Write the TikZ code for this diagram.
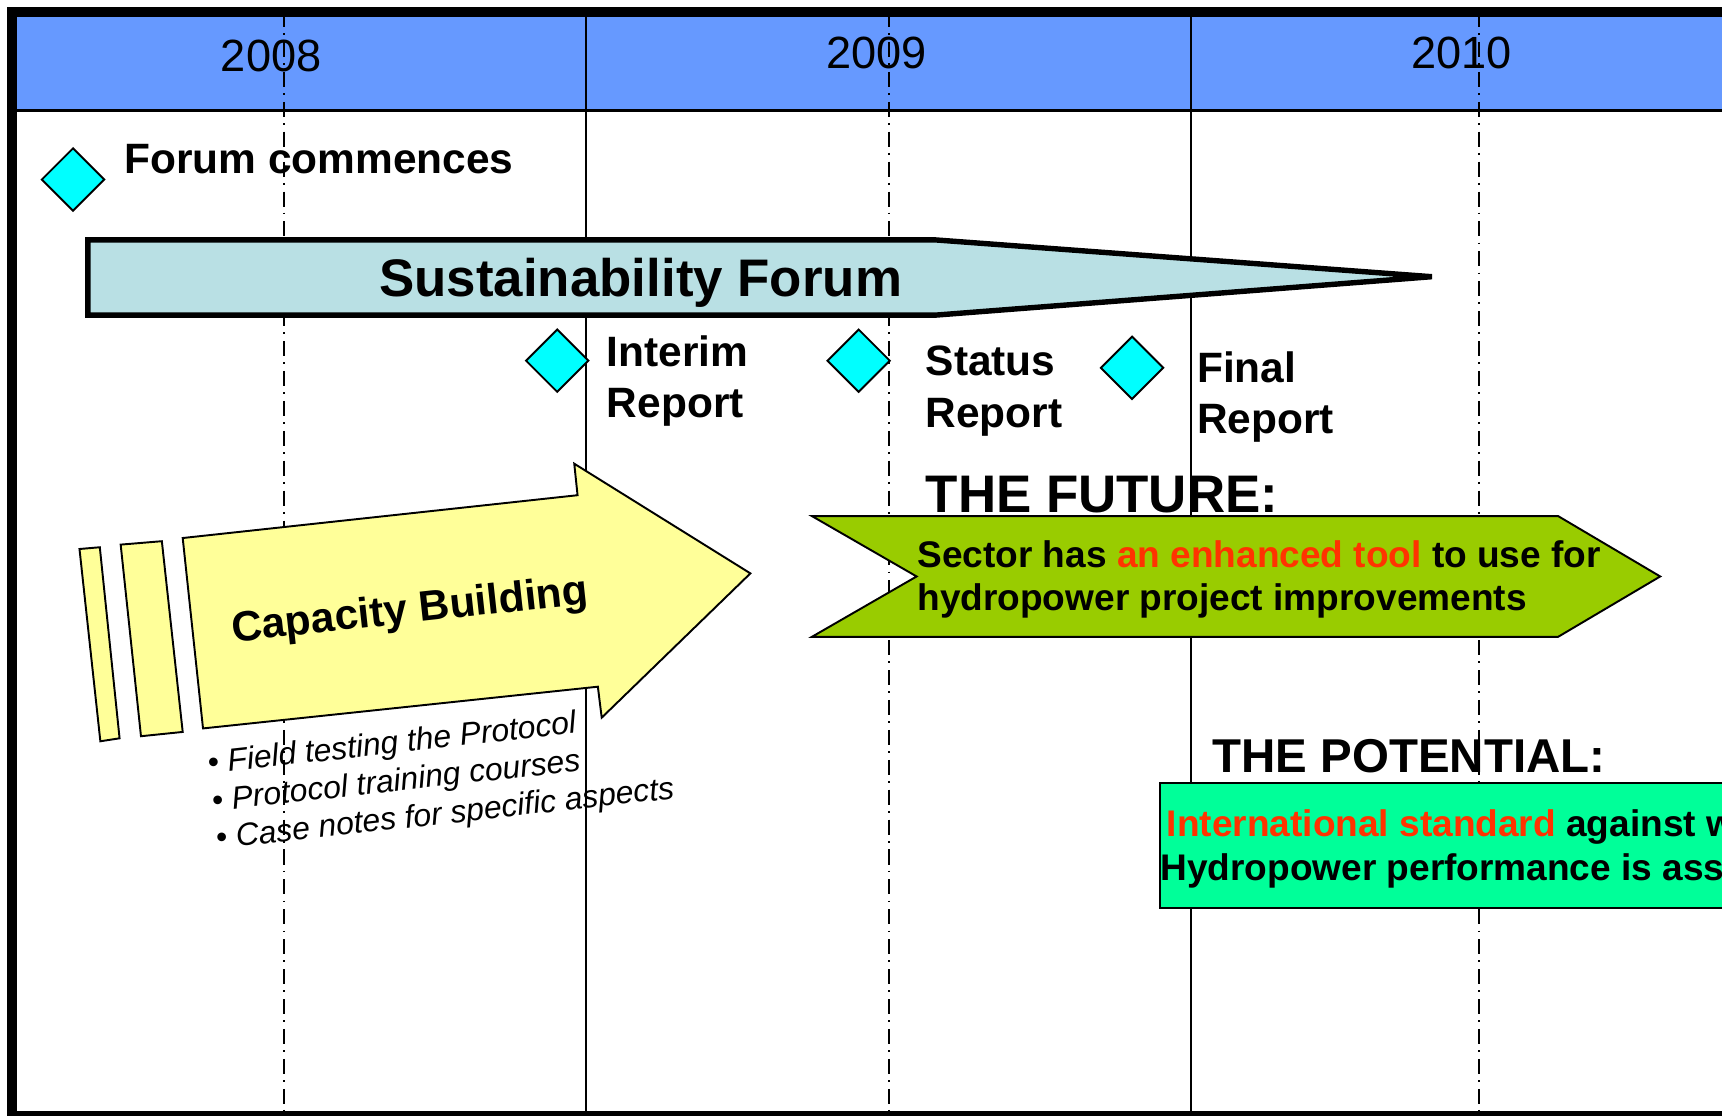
\documentclass[tikz,border=0pt]{standalone}
\usepackage{fontspec}
\setmainfont{Liberation Sans}
\usepackage{tikz}
\usetikzlibrary{shapes.geometric}
\definecolor{headblue}{RGB}{102,153,255}
\definecolor{forumblue}{RGB}{185,224,228}
\definecolor{milecyan}{RGB}{0,255,255}
\definecolor{capyellow}{RGB}{255,255,153}
\definecolor{futuregreen}{RGB}{153,204,0}
\definecolor{potgreen}{RGB}{0,255,153}
\definecolor{hired}{RGB}{255,51,0}

\begin{document}
\begin{tikzpicture}[x=0.1mm,y=-0.1mm,
	milestone/.style={diamond,draw=black,fill=milecyan,line width=0.5pt,minimum width=5.75mm,minimum height=5.75mm,inner sep=0pt},
	year/.style={anchor=base,inner sep=0pt,font=\fontsize{11.7}{14}\selectfont},
	mlabel/.style={anchor=base west,inner sep=0pt,align=left,font=\fontsize{11}{13.4}\selectfont\bfseries},
	boxtext/.style={anchor=base west,inner sep=0pt,align=left},
	outline/.style={draw=black,line width=0.5pt}]
\useasboundingbox (0,0) rectangle (1568.3,1015.5);
\clip (0,0) rectangle (1568.3,1015.5);

\fill[headblue] (10.5,11) rectangle (1640,100.6);
\draw[line width=0.6pt] (10.5,100.6) -- (1640,100.6);
\foreach \yr/\x/\y in {2008/247/65,2009/798.5/62,2010/1331/62}
	\draw (\x,\y) node[year](y-\yr) {\yr};

\foreach \x in {533.6,1084.8}
	\draw[line width=0.45pt] (\x,11) -- (\x,1016);
\foreach \x in {258.3,809.3,1347}
	\draw[line width=0.5pt,dash pattern=on 3.9pt off 1.6pt on 0.45pt off 1.8pt] (\x,11) -- (\x,1016);

\draw (66.5,163.5) node[milestone](m-forum) {};
\draw (112.4,158.4) node[mlabel](l-forum) {Forum commences};

\draw[line width=1.4pt,fill=forumblue] (80,218.5) -- (852,218.5) -- (1304,252) -- (852,287) -- (80,287) -- cycle;
\draw (344.7,270) node[anchor=base west,inner sep=0pt,font=\fontsize{13.7}{16}\selectfont\bfseries](forum) {Sustainability Forum};

\draw (507.5,328.5) node[milestone](m-interim) {};
\draw (782,328.5) node[milestone](m-status) {};
\draw (1031,335) node[milestone](m-final) {};
\draw (552,380.5) node[mlabel](l-interim) {Interim\\Report};
\draw (842.4,389) node[mlabel](l-status) {Status\\Report};
\draw (1089.6,395) node[mlabel](l-final) {Final\\Report};

\draw[outline,fill=capyellow] (72.4,500) -- (90.9,498.4) -- (108.9,672.4) -- (91.4,675.1) -- cycle;
\draw[outline,fill=capyellow] (109.9,496) -- (147.4,492.9) -- (166.4,666.6) -- (128.4,670.5) -- cycle;
\draw[outline,fill=capyellow] (166.4,490) -- (526,451) -- (523,422.3) -- (683.4,522.2) -- (548,653.6) -- (544.5,625.4) -- (184.9,663.4) -- cycle;
\draw (374.5,567.2) node[anchor=base,rotate=6.2,inner sep=0pt,font=\fontsize{11}{13}\selectfont\bfseries](capacity) {Capacity Building};
\draw (197.1,773.2) node[anchor=base west,rotate=6.3,inner sep=0pt,align=left,font=\fontsize{8.25}{9.8}\selectfont\itshape](tasks) {• Field testing the Protocol\\• Protocol training courses\\• Case notes for specific aspects};

\draw (842.4,466.8) node[anchor=base west,inner sep=0pt,font=\fontsize{13.7}{16}\selectfont\bfseries](future) {THE FUTURE:};
\draw[outline,fill=futuregreen] (739.4,470) -- (1419,470) -- (1512,525) -- (1419,580) -- (739.4,580) -- (834.8,525) -- cycle;
\draw (834.8,556.4) node[boxtext,font=\fontsize{9.6}{11.2}\selectfont\bfseries](future-txt) {Sector has \textcolor{hired}{an enhanced tool} to use for\\hydropower project improvements};

\draw (1103.6,703.4) node[anchor=base west,inner sep=0pt,font=\fontsize{12.3}{14}\selectfont\bfseries](potential) {THE POTENTIAL:};
\draw[outline,fill=potgreen] (1056.1,713) rectangle (1640,827.3);
\draw (1056.1,801.5) node[boxtext,font=\fontsize{9.6}{11.4}\selectfont\bfseries](potential-txt) {\hspace*{0.6mm}\textcolor{hired}{International standard} against w\\Hydropower performance is ass};

\draw[line width=2.6pt] (10.5,11) rectangle (1640,1016);
\end{tikzpicture}
\end{document}
